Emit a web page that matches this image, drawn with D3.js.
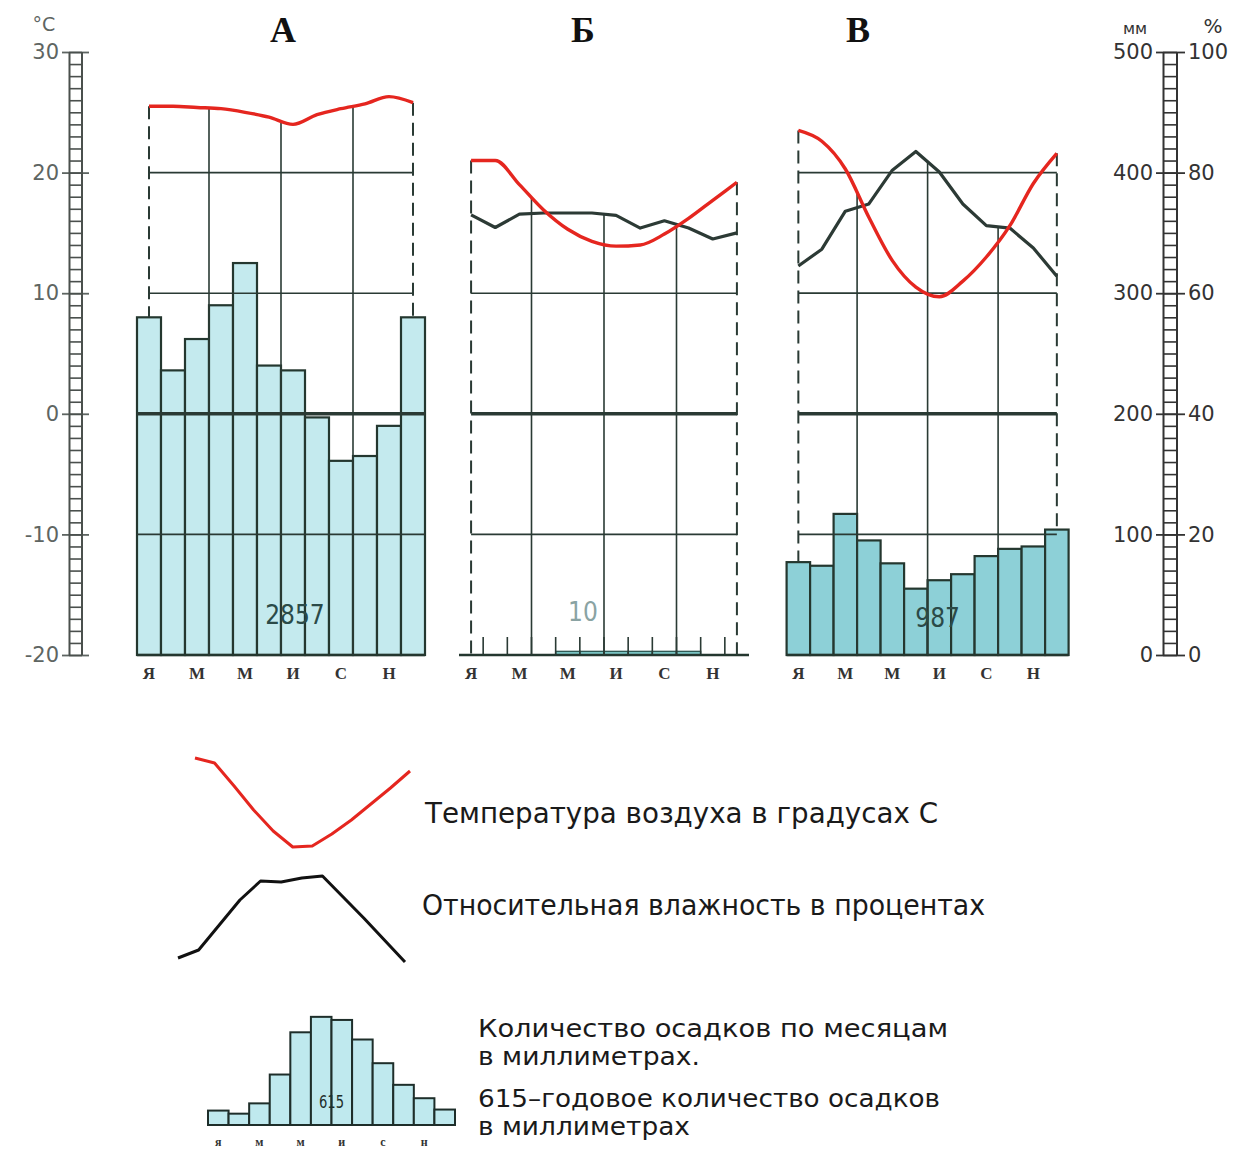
<!DOCTYPE html>
<html><head><meta charset="utf-8">
<script src="https://cdn.jsdelivr.net/npm/d3@7"></script>
<style>body{margin:0;background:#fff}</style>
</head><body><svg id="c" width="1239" height="1151"></svg>
<script>
// ---------- data ----------
const monthIdx = [0,1,2,3,4,5,6,7,8,9,10,11];
const monthLabels = ["Я","","М","","М","","И","","С","","Н",""];
const legendMonthLabels = ["я","","м","","м","","и","","с","","н",""];
const tempTicks = [30,20,10,0,-10,-20];
const mmTicks = [500,400,300,200,100,0];
const pctTicks = [100,80,60,40,20,0];
const panelTitles = ["А","Б","В"];

const tempA   = [25.5,25.5,25.4,25.3,25.0,24.6,24.0,24.8,25.3,25.7,26.3,25.8];
const precipA = [280,236,262,290,325,240,236,197,161,165,190,280];
const totalA  = "2857";

const tempB   = [21.0,21.0,19.0,16.9,15.3,14.3,13.9,14.0,14.9,16.2,17.7,19.2];
const humB    = [73.0,70.9,73.1,73.3,73.3,73.3,72.9,70.8,72.0,70.8,69.0,70.0];
const precipB = [0,0,0,0,3,3,3,3,3,3,0,0];
const totalB  = "10";

const tempC   = [23.5,22.6,20.3,16.3,12.7,10.5,9.7,11.0,13.0,15.6,19.1,21.6];
const humC    = [64.5,67.3,73.6,74.8,80.4,83.5,80.1,74.8,71.2,70.8,67.5,62.8];
const precipC = [77,74,117,95,76,55,62,67,82,88,90,104];
const totalC  = "987";

const legendTemp   = [10.2,9.7,7.4,5.0,2.9,1.3,1.4,2.6,4.0,5.6,7.2,8.9];
const legendHum    = [1.2,2.0,4.5,7.0,8.9,8.8,9.2,9.4,7.3,5.2,3.0,0.8];
const legendPrecip = [14,11,21,49,90,105,102,83,60,39,26,15];
const legendTotal  = "615";
const legendTexts  = ["Температура воздуха в градусах С",
                      "Относительная влажность в процентах",
                      "Количество осадков по месяцам",
                      "в миллиметрах.",
                      "615–годовое количество осадков",
                      "в миллиметрах"];

// ---------- styles ----------
const RED = "#e5261f", DARK = "#24372f", LINE = "#2a3a34";
const svg = d3.select("#c");

const yT = d3.scaleLinear().domain([-20,30]).range([655,52]);
const yP = d3.scaleLinear().domain([0,500]).range([655,52]);
const yH = d3.scaleLinear().domain([0,100]).range([655,52]);

function styleAxis(g, color){
  g.select(".domain").remove();
  g.selectAll(".tick line").attr("stroke", color).attr("stroke-width", 1.8);
  g.selectAll(".tick text").attr("fill", color).attr("font-family","DejaVu Sans").attr("font-size",21);
}
const plain = d => String(d);

// ---------- left axis ----------
{
  const c = "#5e6562";
  const g1 = svg.append("g").attr("transform","translate(75,0)")
    .call(d3.axisLeft(yT).tickValues(tempTicks).tickSize(13).tickPadding(3).tickFormat(plain));
  styleAxis(g1, c);
  const g2 = svg.append("g").attr("transform","translate(75,0)")
    .call(d3.axisRight(yT).tickValues(tempTicks).tickSize(14).tickFormat(""));
  styleAxis(g2, c);
  const g3 = svg.append("g").attr("transform","translate(69,0)")
    .call(d3.axisRight(yT).tickValues(d3.range(-20,31,1)).tickSize(13).tickSizeOuter(0).tickFormat(""));
  g3.select(".domain").attr("stroke", "#4a504d").attr("stroke-width",2);
  g3.selectAll(".tick line").attr("stroke", "#4a504d").attr("stroke-width",1.6);
  svg.append("line").attr("x1",82).attr("x2",82).attr("y1",yT(30)).attr("y2",yT(-20))
    .attr("stroke","#4a504d").attr("stroke-width",2);
  svg.append("text").attr("x",44).attr("y",31).attr("text-anchor","middle")
    .attr("font-family","DejaVu Sans").attr("font-size",19).attr("fill",c).text("°C");
}

// ---------- right axis ----------
{
  const c = "#333";
  const g1 = svg.append("g").attr("transform","translate(1170,0)")
    .call(d3.axisLeft(yP).tickValues(mmTicks).tickSize(14).tickPadding(3).tickFormat(plain));
  styleAxis(g1, c);
  const g2 = svg.append("g").attr("transform","translate(1170,0)")
    .call(d3.axisRight(yH).tickValues(pctTicks).tickSize(15).tickPadding(3).tickFormat(plain));
  styleAxis(g2, c);
  const g3 = svg.append("g").attr("transform","translate(1163,0)")
    .call(d3.axisRight(yP).tickValues(d3.range(0,501,10)).tickSize(14).tickSizeOuter(0).tickFormat(""));
  g3.select(".domain").attr("stroke", c).attr("stroke-width",2);
  g3.selectAll(".tick line").attr("stroke", c).attr("stroke-width",1.6);
  svg.append("line").attr("x1",1177).attr("x2",1177).attr("y1",yP(500)).attr("y2",yP(0))
    .attr("stroke",c).attr("stroke-width",2);
  svg.append("text").attr("x",1135).attr("y",34).attr("text-anchor","middle")
    .attr("font-family","DejaVu Sans").attr("font-size",16).attr("fill",c).text("мм");
  svg.append("text").attr("x",1213).attr("y",33).attr("text-anchor","middle")
    .attr("font-family","DejaVu Sans").attr("font-size",20).attr("fill",c).text("%");
}

// ---------- panels ----------
const panels = [
  {title:panelTitles[0], tx:283, temp:tempA, hum:null, precip:precipA, total:totalA,
   range:[137,425], barFill:"#c4eaee", totalColor:"#2b4a48", totalY:624, totalDx:14,
   grid:[{v:20,full:false,w:1.6},{v:10,full:false,w:1.6},{v:0,full:true,w:3.5},{v:-10,full:true,w:1.8}]},
  {title:panelTitles[1], tx:583, temp:tempB, hum:humB, precip:precipB, total:totalB,
   range:[459,749], barFill:"#7fcccc", totalColor:"#8aa3a3", totalY:621, totalDx:-21,
   grid:[{v:10,full:false,w:1.6},{v:0,full:false,w:3.5},{v:-10,full:false,w:1.6}]},
  {title:panelTitles[2], tx:858, temp:tempC, hum:humC, precip:precipC, total:totalC,
   range:[786.6,1068.6], barFill:"#8dd0d7", totalColor:"#2b4a48", totalY:627, totalDx:10,
   grid:[{v:20,full:false,w:1.8},{v:10,full:false,w:1.8},{v:0,full:false,w:3.5},{v:-10,full:false,w:1.6}]}
];

panels.forEach(p => {
  const g = svg.append("g");
  const x = d3.scaleBand().domain(monthIdx).range(p.range).padding(0);
  const cx = i => x(i) + x.bandwidth()/2;
  const small = d3.max(p.precip) < 10;

  g.append("text").attr("x",p.tx).attr("y",42).attr("text-anchor","middle")
    .attr("font-family","Liberation Serif").attr("font-weight","bold").attr("font-size",36)
    .attr("fill","#111").text(p.title);

  g.selectAll("rect.bar").data(p.precip).join("rect").attr("class","bar")
    .attr("x",(d,i)=>x(i)).attr("width",x.bandwidth())
    .attr("y",d=>yP(d)).attr("height",d=>yP(0)-yP(d))
    .attr("fill",p.barFill).attr("stroke",small ? "#2f5a55" : DARK)
    .attr("stroke-width",small ? 1.4 : 2.2);

  if (small) {
    g.selectAll("line.mt").data(d3.range(1,12)).join("line")
      .attr("x1",i=>x(i)).attr("x2",i=>x(i)).attr("y1",yP(0)).attr("y2",yP(0)-18)
      .attr("stroke",LINE).attr("stroke-width",1.6);
  }

  g.append("line").attr("x1",p.range[0]).attr("x2",p.range[1]).attr("y1",yP(0)).attr("y2",yP(0))
    .attr("stroke",DARK).attr("stroke-width",2.4);

  p.grid.forEach(gr => {
    const x1 = gr.full ? p.range[0] : cx(0);
    const x2 = gr.full ? p.range[1] : cx(11);
    g.append("line").attr("x1",x1).attr("x2",x2).attr("y1",yT(gr.v)).attr("y2",yT(gr.v))
      .attr("stroke",LINE).attr("stroke-width",gr.w);
  });

  const topAt = (i0,i1) => {
    let ys = [yT((p.temp[i0]+p.temp[i1])/2)];
    if (p.hum) ys.push(yH((p.hum[i0]+p.hum[i1])/2));
    return d3.min(ys);
  };
  [3,6,9].forEach(q => {
    g.append("line").attr("x1",x(q)).attr("x2",x(q)).attr("y1",topAt(q-1,q)).attr("y2",yP(0))
      .attr("stroke",LINE).attr("stroke-width",1.6);
  });
  [0,11].forEach(i => {
    g.append("line").attr("x1",cx(i)).attr("x2",cx(i)).attr("y1",topAt(i,i)).attr("y2",yP(p.precip[i]))
      .attr("stroke",LINE).attr("stroke-width",2).attr("stroke-dasharray","13,7");
  });

  if (p.hum) {
    g.append("path").datum(p.hum)
      .attr("d", d3.line().x((d,i)=>cx(i)).y(d=>yH(d)))
      .attr("fill","none").attr("stroke","#2c3a35").attr("stroke-width",3.2).attr("stroke-linejoin","round");
  }
  g.append("path").datum(p.temp)
    .attr("d", d3.line().x((d,i)=>cx(i)).y(d=>yT(d)).curve(d3.curveMonotoneX))
    .attr("fill","none").attr("stroke",RED).attr("stroke-width",3.4).attr("stroke-linejoin","round");

  g.append("text").attr("x",x(6) + p.totalDx).attr("y",p.totalY)
    .attr("text-anchor","middle").attr("font-family","DejaVu Sans Condensed")
    .attr("font-size",26).attr("fill",p.totalColor).text(p.total);

  g.selectAll("text.m").data(monthLabels).join("text").attr("class","m")
    .attr("x",(d,i)=>cx(i)).attr("y",679).attr("text-anchor","middle")
    .attr("font-family","Liberation Serif").attr("font-weight","bold").attr("font-size",17)
    .attr("fill","#333").text(d=>d);
});

// ---------- legend ----------
{
  const lxT = d3.scalePoint().domain(monthIdx).range([195,410]);
  const lyT = d3.scaleLinear().domain([0,10]).range([860,760]);
  svg.append("path").datum(legendTemp)
    .attr("d", d3.line().x((d,i)=>lxT(i)).y(d=>lyT(d)))
    .attr("fill","none").attr("stroke",RED).attr("stroke-width",3).attr("stroke-linejoin","round");

  const lxH = d3.scalePoint().domain(monthIdx).range([178,405]);
  const lyH = d3.scaleLinear().domain([0,10]).range([970,870]);
  svg.append("path").datum(legendHum)
    .attr("d", d3.line().x((d,i)=>lxH(i)).y(d=>lyH(d)))
    .attr("fill","none").attr("stroke","#111").attr("stroke-width",3).attr("stroke-linejoin","round");

  const lxB = d3.scaleBand().domain(monthIdx).range([208,455]);
  const lyB = d3.scaleLinear().domain([0,100]).range([1125,1022]);
  svg.selectAll("rect.lb").data(legendPrecip).join("rect").attr("class","lb")
    .attr("x",(d,i)=>lxB(i)).attr("width",lxB.bandwidth())
    .attr("y",d=>lyB(d)).attr("height",d=>lyB(0)-lyB(d))
    .attr("fill","#bfe9ee").attr("stroke","#1e2e2a").attr("stroke-width",2);
  svg.append("text").attr("x",lxB(6)).attr("y",1108).attr("text-anchor","middle")
    .attr("font-family","DejaVu Sans Condensed").attr("font-size",17).attr("fill","#1e2e2a")
    .attr("textLength",25).attr("lengthAdjust","spacingAndGlyphs").text(legendTotal);
  svg.selectAll("text.lm").data(legendMonthLabels).join("text").attr("class","lm")
    .attr("x",(d,i)=>lxB(i)+lxB.bandwidth()/2).attr("y",1146).attr("text-anchor","middle")
    .attr("font-family","Liberation Serif").attr("font-weight","bold").attr("font-size",12)
    .attr("fill","#333").text(d=>d);

  // [x, baseline y, width, font size]
  const pos = [[425,823,513,28],[422,915,563,28],[478,1037,470,25],[478,1065,222,25],[478,1107,462,25],[478,1135,212,25]];
  legendTexts.forEach((t,i) => {
    svg.append("text").attr("x",pos[i][0]).attr("y",pos[i][1])
      .attr("font-family","DejaVu Sans Condensed").attr("font-size",pos[i][3]).attr("fill","#1a1a1a")
      .attr("textLength",pos[i][2]).attr("lengthAdjust","spacingAndGlyphs").text(t);
  });
}
</script>
</body></html>
